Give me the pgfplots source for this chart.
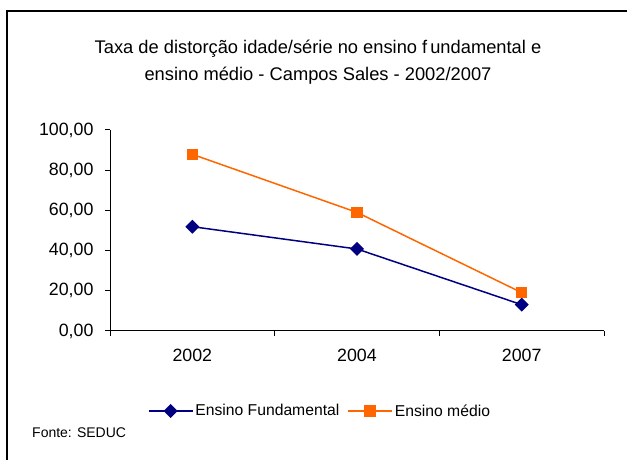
\documentclass[border=0pt]{standalone}
\usepackage{pgfplots}
\pgfplotsset{compat=1.18}
\usepackage{fontspec}
\setmainfont{Liberation Sans}
\definecolor{azulmarinho}{HTML}{000080}
\definecolor{laranja}{HTML}{FF6600}
\begin{document}
\begin{tikzpicture}[x=1pt,y=1pt]
\useasboundingbox (0,0) rectangle (627,460);
% moldura (parcial, como no original)
\draw[line width=1.3pt] (7,0) -- (7,449) -- (627,449);
\node[font=\fontsize{18.3}{27}\selectfont, align=center] at (318,398)
  {Taxa de distorção idade/série no ensino f\hspace{3pt}undamental e\\ensino médio - Campos Sales - 2002/2007};
\node[font=\fontsize{14}{16}\selectfont, anchor=west, inner sep=0pt] at (32,27) {Fonte: SEDUC};
\begin{axis}[
    at={(110pt,129pt)}, anchor=origin,
    scale only axis,
    width=494pt, height=201pt,
    xmin=0, xmax=3,
    ymin=0, ymax=100,
    axis lines=left,
    axis line style={-, line width=1pt},
    tick align=outside,
    major tick length=5pt,
    tick style={black, line width=1pt},
    xtick={0,1,2,3},
    xticklabels={},
    extra x ticks={0.5,1.5,2.5},
    extra x tick labels={2002,2004,2007},
    extra x tick style={major tick length=0pt},
    ytick={0,20,40,60,80,100},
    yticklabel style={
        /pgf/number format/fixed,
        /pgf/number format/fixed zerofill,
        /pgf/number format/precision=2,
        /pgf/number format/use comma,
        /pgf/number format/1000 sep={},
        xshift=-8pt,
    },
    /pgf/number format/assume math mode=true,
    tick label style={font=\fontsize{17.8}{20}\selectfont},
    xticklabel style={yshift=-15pt},
    legend style={
        at={(0.425,-0.398)},
        anchor=center,
        draw=none,
        font=\fontsize{15.7}{18}\selectfont,
        legend columns=2,
        /tikz/every even column/.append style={column sep=6pt},
        inner sep=0pt,
    },
    legend image code/.code={
        \draw[mark repeat=2,mark phase=2,#1]
            plot coordinates {(0pt,0pt) (22pt,0pt) (44pt,0pt)};
    },
]

% Ensino Fundamental
\addplot[
    color=azulmarinho,
    line width=1.5pt,
    mark=square*,
    mark size=4.2pt,
    mark options={rotate=45, solid},
] coordinates {
    (0.5,51.9) (1.5,40.8) (2.5,13.1)
};
\addlegendentry{Ensino Fundamental}

% Ensino medio
\addplot[
    color=laranja,
    line width=1.5pt,
    mark=square*,
    mark size=5pt,
] coordinates {
    (0.5,87.9) (1.5,59.0) (2.5,19.1)
};
\addlegendentry{Ensino médio}

\end{axis}
\end{tikzpicture}
\end{document}
